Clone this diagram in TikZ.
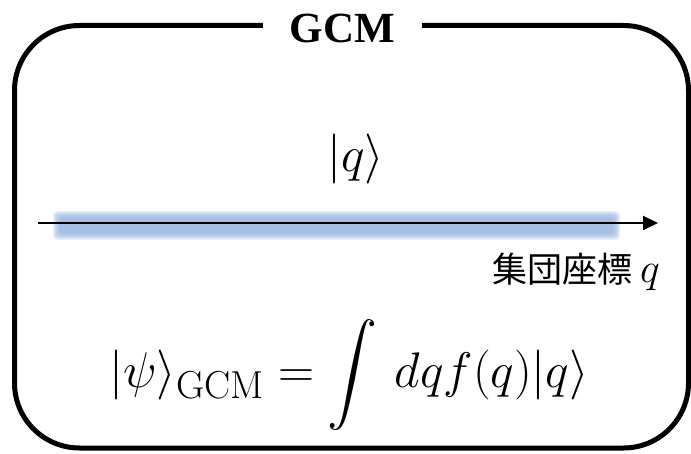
\RequirePackage{fix-cm}
\documentclass[tikz,border=0pt]{standalone}
\usepackage{amsmath}
\DeclareFontShape{OMX}{cmex}{m}{n}{<-> cmex10}{}
\usepackage{fontspec}
\usepackage{tikz}
\usetikzlibrary{arrows.meta,positioning,calc}
\newfontfamily\titlefont{Liberation Serif}
\newfontfamily\jpfont{Noto Sans CJK JP}
\definecolor{gcmGlow}{RGB}{150,178,222}
\begin{document}
\begin{tikzpicture}[
    x=1pt, y=-1pt,
    frame/.style={draw, line width=5pt, rounded corners=65pt, minimum width=674pt, minimum height=422.5pt, inner sep=0pt},
    title/.style={fill=white, inner xsep=27pt, inner ysep=4pt, font=\fontsize{43}{48}\titlefont\bfseries\selectfont},
    bigmath/.style={inner sep=0pt, font=\fontsize{50}{58}\selectfont},
    axis/.style={-{Triangle[length=15pt, width=14pt]}, line width=2pt},
    axislabel/.style={inner sep=0pt, font=\fontsize{35}{40}\selectfont}
]
\useasboundingbox (0,0) rectangle (691,454);
% Frame and title
\node[frame] (gcmbox) at (351.5,236.75) {};
\node[title, anchor=base] (gcmtitle) at (342.5,42.5) {GCM};

% Collective coordinate
\foreach \s in {0,...,7}
    \fill[gcmGlow, opacity=0.2, rounded corners=4pt] ({53+\s},{211+\s}) rectangle ({620-\s},{240-\s});
\coordinate (qstart) at (38,223);
\coordinate (qend) at (658,223);
\draw[axis] (qstart) -- (qend);
\node[bigmath, anchor=base] (ket) at (356,172) {$|q\rangle$};
\node[axislabel, anchor=base east] (qlabel) at (660,283) {\jpfont 集団座標 \rmfamily\fontsize{42}{46}\selectfont$q$};

% GCM wave function
\node[bigmath, anchor=base west] (psi) at (109,388) {$\displaystyle |\psi\rangle_{\text{\fontsize{39}{44}\selectfont GCM}} = \int\, dq f(q)|q\rangle$};
\end{tikzpicture}
\end{document}
